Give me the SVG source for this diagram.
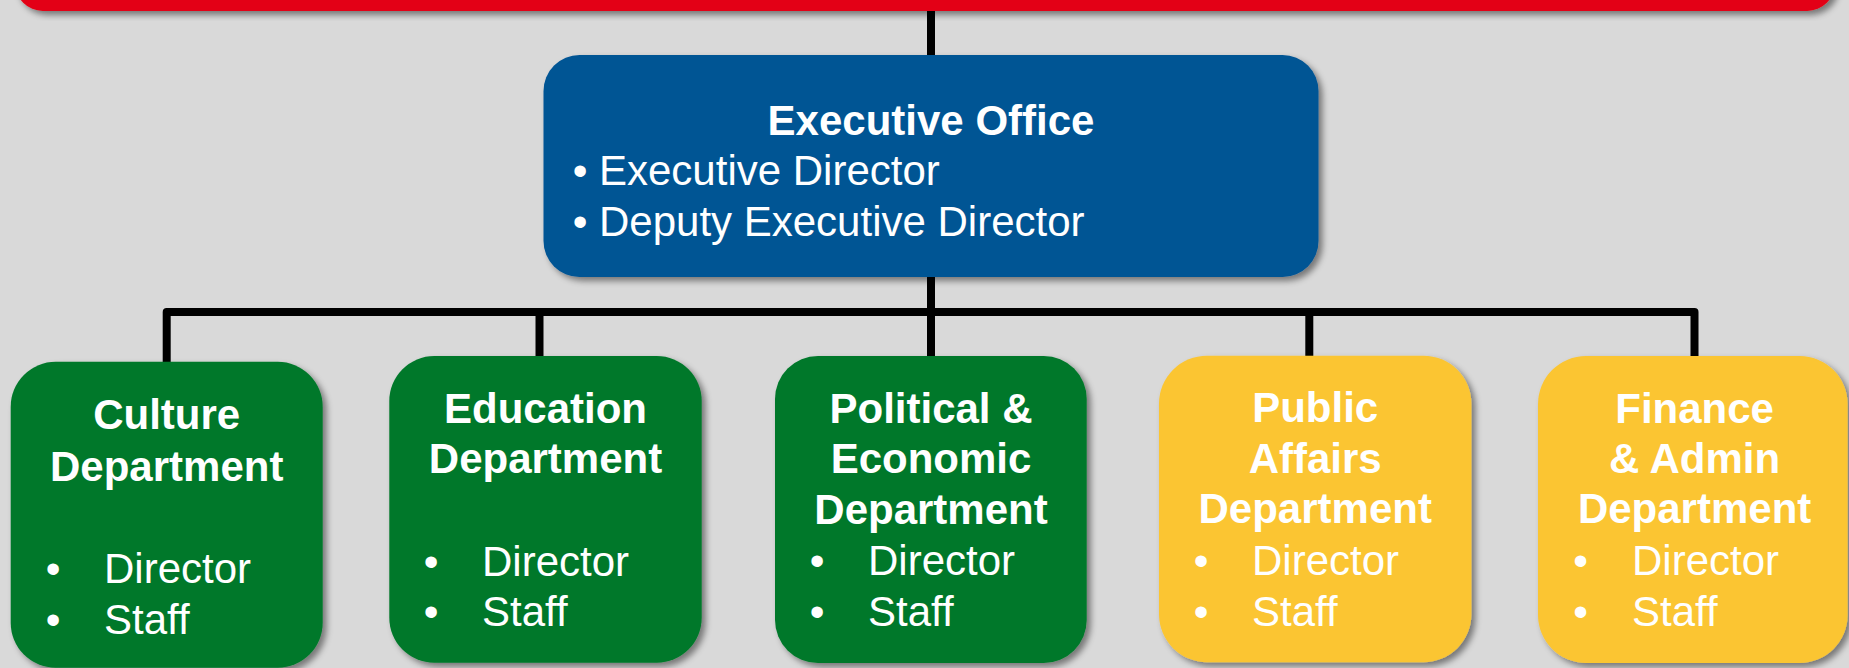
<svg xmlns="http://www.w3.org/2000/svg" width="1849" height="668" viewBox="0 0 1849 668">
<defs>
<filter id="sh" x="-10%" y="-10%" width="125%" height="125%">
<feDropShadow dx="4" dy="4" stdDeviation="3" flood-color="#000" flood-opacity="0.45"/>
</filter>
<style>
.bg{fill:#D9D9D9}
.red{fill:#E30613}
.blue{fill:#005494}
.green{fill:#00782B}
.yellow{fill:#FBC533}
.conn{fill:none;stroke:#000;stroke-width:8;stroke-linejoin:round}
text{font-family:"Liberation Sans",Arial,sans-serif;font-size:42px;fill:#fff}
.t{font-weight:bold;text-anchor:middle}
.b{text-anchor:middle}
</style>
</defs>
<rect class="bg" x="0" y="0" width="1849" height="668"/>
<g id="connectors">
<line class="conn" x1="931" y1="5" x2="931" y2="58"/>
<line class="conn" x1="931" y1="274" x2="931" y2="359"/>
<polyline class="conn" points="166.7,364 166.7,312 1694.5,312 1694.5,359"/>
<line class="conn" x1="539.5" y1="312" x2="539.5" y2="359"/>
<line class="conn" x1="1309.3" y1="316" x2="1309.3" y2="359"/>
</g>
<g id="top-bar">
<rect class="red" x="15" y="-50" width="1820" height="61" rx="28" filter="url(#sh)"/>
</g>
<g id="executive-office">
<rect class="blue" x="543.5" y="55" width="775" height="222" rx="36" filter="url(#sh)"/>
<text class="t" x="931" y="135">Executive Office</text>
<text class="b" x="580" y="185">•</text>
<text x="599" y="185">Executive Director</text>
<text class="b" x="580" y="235.7">•</text>
<text x="599" y="235.7">Deputy Executive Director</text>
</g>
<g id="culture">
<rect class="green" x="10.7" y="361.7" width="312" height="306" rx="45" filter="url(#sh)"/>
<text class="t" x="166.7" y="429.3">Culture</text>
<text class="t" x="166.7" y="480.7">Department</text>
<text class="b" x="53" y="583.3">•</text>
<text x="104" y="583.3">Director</text>
<text class="b" x="53" y="634">•</text>
<text x="104" y="634">Staff</text>
</g>
<g id="education">
<rect class="green" x="389.3" y="356" width="312.4" height="306.7" rx="45" filter="url(#sh)"/>
<text class="t" x="545.5" y="423.3">Education</text>
<text class="t" x="545.5" y="473.3">Department</text>
<text class="b" x="431" y="575.7">•</text>
<text x="482" y="575.7">Director</text>
<text class="b" x="431" y="626">•</text>
<text x="482" y="626">Staff</text>
</g>
<g id="political">
<rect class="green" x="775" y="356" width="311.7" height="307" rx="43" filter="url(#sh)"/>
<text class="t" x="931" y="422.7">Political &amp;</text>
<text class="t" x="931" y="473.3">Economic</text>
<text class="t" x="931" y="524.3">Department</text>
<text class="b" x="817" y="575">•</text>
<text x="868" y="575">Director</text>
<text class="b" x="817" y="626">•</text>
<text x="868" y="626">Staff</text>
</g>
<g id="public-affairs">
<rect class="yellow" x="1159" y="355.7" width="312.4" height="306.5" rx="48" filter="url(#sh)"/>
<text class="t" x="1315.2" y="421.7">Public</text>
<text class="t" x="1315.2" y="472.7">Affairs</text>
<text class="t" x="1315.2" y="523.3">Department</text>
<text class="b" x="1201" y="575">•</text>
<text x="1252" y="575">Director</text>
<text class="b" x="1201" y="626">•</text>
<text x="1252" y="626">Staff</text>
</g>
<g id="finance">
<rect class="yellow" x="1538" y="356" width="309.6" height="307" rx="48" filter="url(#sh)"/>
<text class="t" x="1694.6" y="422.7">Finance</text>
<text class="t" x="1694.6" y="473.3">&amp; Admin</text>
<text class="t" x="1694.6" y="523.3">Department</text>
<text class="b" x="1580.5" y="575">•</text>
<text x="1632" y="575">Director</text>
<text class="b" x="1580.5" y="626">•</text>
<text x="1632" y="626">Staff</text>
</g>
</svg>
